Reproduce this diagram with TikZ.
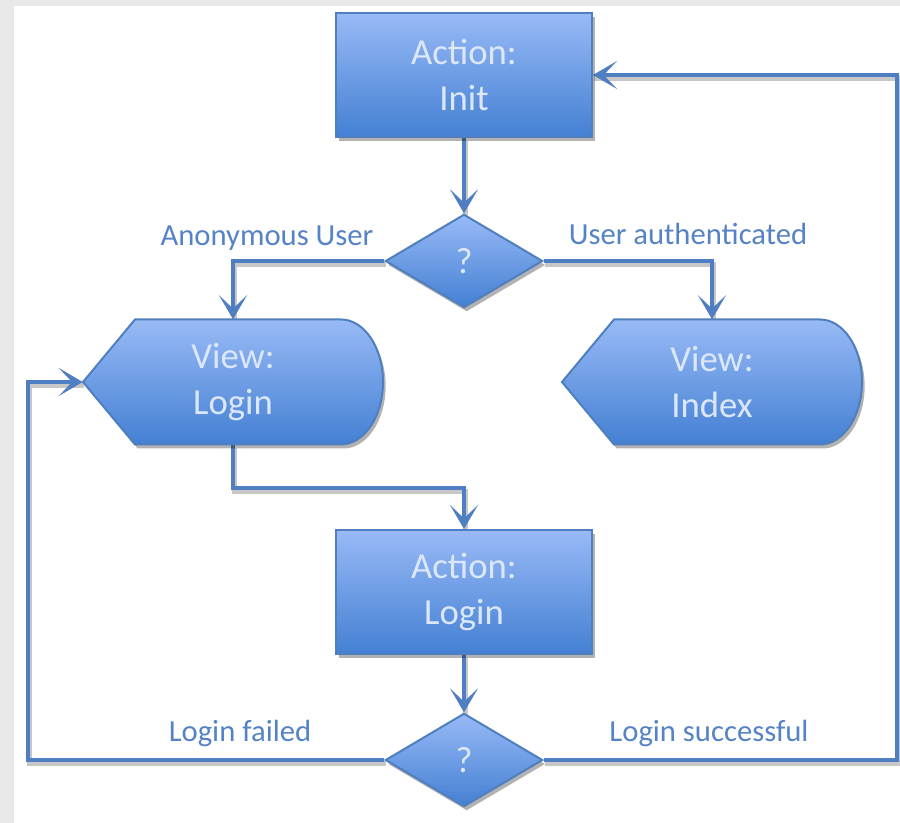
\documentclass[tikz,border=0pt]{standalone}
\usepackage{fontspec}
\setmainfont{Carlito}
\usetikzlibrary{arrows.meta,shapes.geometric,shadows}
\definecolor{boxtop}{HTML}{98BAF6}
\definecolor{boxbot}{HTML}{4480D3}
\definecolor{boxline}{HTML}{4F7FBF}
\definecolor{conncol}{HTML}{4F7FC2}
\definecolor{nodetext}{HTML}{DCE8FA}
\definecolor{labcol}{HTML}{5583C5}
\definecolor{bgray}{HTML}{E9E9E9}
\pgfdeclarelayer{bg}
\pgfdeclarelayer{shadowlayer}
\pgfdeclarelayer{conn}
\pgfsetlayers{bg,shadowlayer,conn,main}
\newcommand\dispath[2]{(#1-150,#2) -- (#1-98,#2-62.5) -- (#1+108,#2-62.5) arc[start angle=90,end angle=-90,x radius=31.5pt,y radius=46.875pt] -- (#1-98,#2+62.5) -- cycle}
\tikzset{
  nodefont/.style={font=\fontsize{27.5}{35}\selectfont, text=nodetext, align=center},
  boxshadow/.style={drop shadow={shadow xshift=2pt, shadow yshift=-3pt, opacity=0.3, fill=black}},
  actionbox/.style={rectangle, nodefont, top color=boxtop, bottom color=boxbot, draw=boxline, line width=1.5pt, minimum width=192pt, minimum height=93pt, inner sep=0pt, boxshadow},
  decision/.style={diamond, nodefont, top color=boxtop, bottom color=boxbot, draw=boxline, line width=1.5pt, minimum width=118pt, minimum height=70pt, inner sep=0pt, boxshadow},
  viewnode/.style={rectangle, nodefont, minimum width=225pt, minimum height=93.75pt, inner sep=0pt},
  viewfill/.style={top color=boxtop, bottom color=boxbot, draw=boxline, line width=1.5pt},
  conn/.style={draw=conncol, line width=3.3pt, -{Stealth[length=18pt, width=21pt, inset=10pt]}},
  connshadow/.style={draw=black!22, line width=3.3pt},
  lab/.style={font=\fontsize{23}{28}\selectfont, text=labcol, inner sep=0pt}
}
\begin{document}
\begin{tikzpicture}[x=0.75pt,y=-0.75pt]
\begin{pgfonlayer}{bg}
  \fill[bgray] (0,0) rectangle (900,823);
  \fill[white] (14,6) rectangle (900,823);
\end{pgfonlayer}
\useasboundingbox (0,0) rectangle (900,823);

% nodes
\node[actionbox] (init) at (464,75) {Action:\\Init};
\node[decision] (q1) at (464,261) {?};

\fill[black, opacity=0.3, xshift=2pt, yshift=-3pt] \dispath{233}{382};
\path[viewfill] \dispath{233}{382};
\node[viewnode] (vlogin) at (233,382) {View:\\Login};

\fill[black, opacity=0.3, xshift=2pt, yshift=-3pt] \dispath{712}{382};
\path[viewfill] \dispath{712}{382};
\node[viewnode] (vindex) at (712,382) {View:\\Index};

\node[actionbox] (alogin) at (464,592) {Action:\\Login};
\node[decision] (q2) at (464,760) {?};

% labels
\node[lab] (lanon) at (267,238) {Anonymous User};
\node[lab] (lauth) at (688,234) {User authenticated};
\node[lab] (lfail) at (240,733) {Login failed};
\node[lab] (lsucc) at (709,733) {Login successful};

% helper coordinates
\coordinate (bend) at (464,488);
\coordinate (lc) at (28,382);
\coordinate (rc) at (897,75);

\begin{pgfonlayer}{shadowlayer}
\begin{scope}[transform canvas={xshift=1pt, yshift=-2.5pt}]
  \draw[connshadow] (init.south) -- (q1.north);
  \draw[connshadow] (q1.west) -| (vlogin.north);
  \draw[connshadow] (q1.east) -| (vindex.north);
  \draw[connshadow] (vlogin.south) |- (bend) -- (alogin.north);
  \draw[connshadow] (alogin.south) -- (q2.north);
  \draw[connshadow] (q2.west) -| (lc) -- (vlogin.west);
  \draw[connshadow] (q2.east) -| (rc) -- (init.east);
\end{scope}
\end{pgfonlayer}
\begin{pgfonlayer}{conn}
  \draw[conn] (init.south) -- (q1.north);
  \draw[conn] (q1.west) -| (vlogin.north);
  \draw[conn] (q1.east) -| (vindex.north);
  \draw[conn] (vlogin.south) |- (bend) -- (alogin.north);
  \draw[conn] (alogin.south) -- (q2.north);
  \draw[conn] (q2.west) -| (lc) -- (vlogin.west);
  \draw[conn] (q2.east) -| (rc) -- (init.east);
\end{pgfonlayer}
\end{tikzpicture}
\end{document}
